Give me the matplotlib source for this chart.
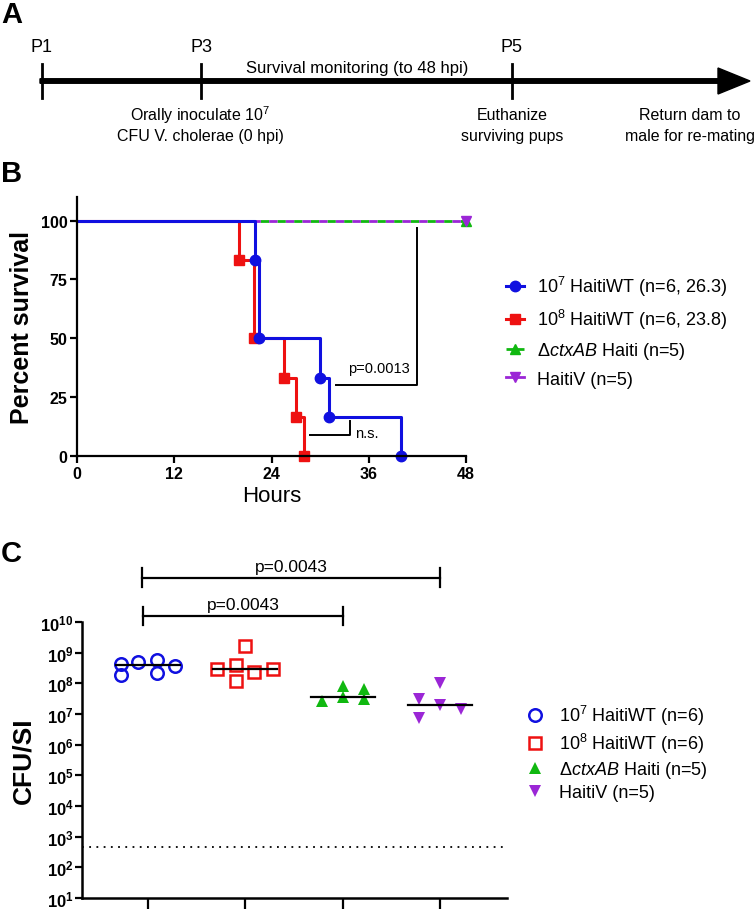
import numpy as np
import matplotlib
matplotlib.use('Agg')
from matplotlib import pyplot as plt
from matplotlib.lines import Line2D

plt.rcParams['font.family'] = ['Liberation Sans', 'DejaVu Sans']
plt.rcParams['mathtext.fontset'] = 'custom'
plt.rcParams['mathtext.rm'] = 'Liberation Sans'
plt.rcParams['mathtext.it'] = 'Liberation Sans:italic'
plt.rcParams['mathtext.bf'] = 'Liberation Sans:bold'

# Panel A: timeline stages
stage_names = ['P1', 'P3', 'P5']
stage_notes = [('Orally inoculate $10^7$', 'CFU V. cholerae (0 hpi)'),
               ('Euthanize', 'surviving pups'),
               ('Return dam to', 'male for re-mating')]

# Panel B: Kaplan-Meier survival (hours, percent survival)
t_107 = [0, 22, 22.4, 30, 31.1, 40]
s_107 = [100, 83.3, 50, 33.3, 16.7, 0]
t_108 = [0, 20, 21.9, 25.5, 27, 28]
s_108 = [100, 83.3, 50, 33.3, 16.7, 0]
t_ctx = [0, 48]
s_ctx = [100, 100]
t_hv = [0, 48]
s_hv = [100, 100]
surv_labels = ['$10^7$ HaitiWT (n=6, 26.3)', '$10^8$ HaitiWT (n=6, 23.8)',
               'Δ$\\mathit{ctxAB}$ Haiti (n=5)', 'HaitiV (n=5)']

# Panel C: CFU per small intestine
groups = ['$10^7$ HaitiWT (n=6)', '$10^8$ HaitiWT (n=6)',
          'Δ$\\mathit{ctxAB}$ Haiti (n=5)', 'HaitiV (n=5)']
cfu_107 = [4.2e8, 1.9e8, 5.0e8, 5.6e8, 2.2e8, 3.7e8]
cfu_108 = [2.9e8, 4.1e8, 1.15e8, 1.7e9, 2.4e8, 3.0e8]
cfu_ctx = [2.6e7, 7.9e7, 3.5e7, 6.6e7, 3.0e7]
cfu_hv = [3.0e7, 7.6e6, 1.0e8, 2.0e7, 1.5e7]
limit_detection = 450

# jitter of points inside each column
jit_107 = [-0.28, -0.28, -0.1, 0.09, 0.09, 0.28]
jit_108 = [-0.29, -0.1, -0.1, 0.0, 0.09, 0.28]
jit_ctx = [-0.21, 0.0, 0.0, 0.22, 0.22]
jit_hv = [-0.21, -0.21, 0.0, 0.0, 0.22]

blue, red, green, purple = '#1010e0', '#ee1111', '#10b810', '#9b26d6'

W, H = 756, 912
fig = plt.figure(figsize=(W / 100, H / 100), dpi=100)

# overlay in pixel coordinates for the schematic and panel letters
ax0 = fig.add_axes([0, 0, 1, 1])
ax0.set_xlim(0, W)
ax0.set_ylim(H, 0)
ax0.axis('off')

stage_x = [42, 201, 512]
line_y = 82
ax0.arrow(40, line_y, 710, 0, width=4.5, head_width=26, head_length=32,
          length_includes_head=True, color='black')
for x, name in zip(stage_x, stage_names):
    ax0.plot([x, x], [65, 99], color='black', lw=2)
    ax0.text(x, 48, name, ha='center', va='center', fontsize=13)
ax0.text(357, 68, 'Survival monitoring (to 48 hpi)', ha='center', va='center', fontsize=12)
for x, (l1, l2) in zip([200, 512, 690], stage_notes):
    ax0.text(x, 115, l1, ha='center', va='center', fontsize=11.5)
    ax0.text(x, 137, l2, ha='center', va='center', fontsize=11.5)

for letter, y in [('A', 15), ('B', 174), ('C', 554)]:
    ax0.text(1, y, letter, ha='left', va='center', fontsize=21, fontweight='bold')

# Panel B
ax_b = fig.add_axes([77 / W, 1 - 457 / H, 389 / W, 259 / H])
ax_b.plot(t_ctx, s_ctx, color=green, lw=2, ls=(0, (3, 3)), marker='^', ms=7,
          markevery=[1], clip_on=False)
ax_b.plot(t_hv, s_hv, color=purple, lw=2, ls=(3, (3, 3)),
          marker='v', ms=7, markevery=[1], clip_on=False)
ax_b.step(t_108, s_108, where='post', color=red, lw=2.2, marker='s', ms=7,
          markevery=slice(1, None), clip_on=False)
ax_b.step(t_107, s_107, where='post', color=blue, lw=2.2, marker='o', ms=7.5,
          markevery=slice(1, None), clip_on=False)

# significance brackets
ax_b.plot([31.9, 42, 42], [30.3, 30.3, 96.7], color='black', lw=1.4)
ax_b.text(37.2, 37.5, 'p=0.0013', ha='center', va='center', fontsize=10.5)
ax_b.plot([28.8, 33.7, 33.7], [9.0, 9.0, 14.7], color='black', lw=1.4)
ax_b.text(34.3, 9.8, 'n.s.', ha='left', va='center', fontsize=10.5)

ax_b.set_xlim(0, 48)
ax_b.set_ylim(0, 110)
ax_b.set_xticks([0, 12, 24, 36, 48])
ax_b.set_yticks([0, 25, 50, 75, 100])
for s in ['top', 'right']:
    ax_b.spines[s].set_visible(False)
for s in ['left', 'bottom']:
    ax_b.spines[s].set_linewidth(1.6)
ax_b.tick_params(direction='out', width=1.6, length=5, labelsize=11.5, pad=2)
for lab in ax_b.get_xticklabels() + ax_b.get_yticklabels():
    lab.set_fontweight('bold')
ax_b.set_xlabel('Hours', fontsize=16, labelpad=3)
ax_b.set_ylabel('Percent survival', fontsize=18, fontweight='bold', labelpad=5)

handles_b = [Line2D([], [], color=blue, lw=2.2, marker='o', ms=7.5),
             Line2D([], [], color=red, lw=2.2, marker='s', ms=7),
             Line2D([], [], color=green, lw=2, ls=(0, (2.5, 1.5)), marker='^', ms=7),
             Line2D([], [], color=purple, lw=2, marker='v', ms=7)]
ax_b.legend(handles_b, surv_labels, loc='upper left',
            bbox_to_anchor=(499 / W, 1 - 268 / H), bbox_transform=fig.transFigure,
            frameon=False, fontsize=13, handlelength=1.0, handletextpad=0.7,
            labelspacing=0.5, borderaxespad=0)

# Panel C
ax_c = fig.add_axes([82 / W, 1 - 899 / H, 425 / W, 276 / H])
cfu_sets = [cfu_107, cfu_108, cfu_ctx, cfu_hv]
jits = [jit_107, jit_108, jit_ctx, jit_hv]
styles = [dict(marker='o', mfc='none', mec=blue, ms=9, mew=1.8),
          dict(marker='s', mfc='none', mec=red, ms=9, mew=1.8),
          dict(marker='^', mfc=green, mec=green, ms=9, mew=0),
          dict(marker='v', mfc=purple, mec=purple, ms=9, mew=0)]
for i, (vals, jit, st) in enumerate(zip(cfu_sets, jits, styles)):
    xs = [i + 1 + j for j in jit]
    ax_c.plot(xs, vals, ls='none', label=groups[i], clip_on=False, **st)
    med = np.median(vals)
    ax_c.plot([i + 1 - 0.33, i + 1 + 0.33], [med, med], color='black', lw=1.6, zorder=3)

ax_c.axhline(limit_detection, color='black', lw=1.3, ls=(0, (1, 3)))

# significance brackets above the axes
for x0, x1, y, ty in [(0.94, 4.0, 10 ** 11.45, 10 ** 11.82), (0.95, 3.0, 10 ** 10.2, 10 ** 10.57)]:
    ax_c.plot([x0, x1], [y, y], color='black', lw=1.6, clip_on=False)
    for xe in (x0, x1):
        ax_c.plot([xe, xe], [y / 2, y * 2], color='black', lw=1.6, clip_on=False)
    ax_c.text((x0 + x1) / 2, ty, 'p=0.0043', ha='center', va='center', fontsize=12.5)

ax_c.set_yscale('log')
ax_c.set_ylim(10, 1e10)
ax_c.set_xlim(0.32, 4.69)
ax_c.set_xticks([1, 2, 3, 4])
ax_c.set_xticklabels([])
decades = list(range(1, 11))
ax_c.set_yticks([10.0 ** d for d in decades])
ax_c.set_yticklabels(['$\\mathbf{10^{%d}}$' % d for d in decades])
for s in ['top', 'right']:
    ax_c.spines[s].set_visible(False)
for s in ['left', 'bottom']:
    ax_c.spines[s].set_linewidth(1.8)
ax_c.tick_params(axis='y', which='major', direction='out', width=1.6, length=5,
                 labelsize=12, pad=1)
ax_c.tick_params(axis='y', which='minor', direction='out', width=1.0, length=3)
ax_c.tick_params(axis='x', direction='out', width=1.6, length=8)
ax_c.set_ylabel('CFU/SI', fontsize=19, fontweight='bold', labelpad=4)

ax_c.legend(loc='upper left', bbox_to_anchor=(519 / W, 1 - 697 / H),
            bbox_transform=fig.transFigure, frameon=False, fontsize=13,
            handlelength=1.0, handletextpad=0.8, labelspacing=0.22,
            borderaxespad=0)

fig.savefig('out.png', dpi=100)
